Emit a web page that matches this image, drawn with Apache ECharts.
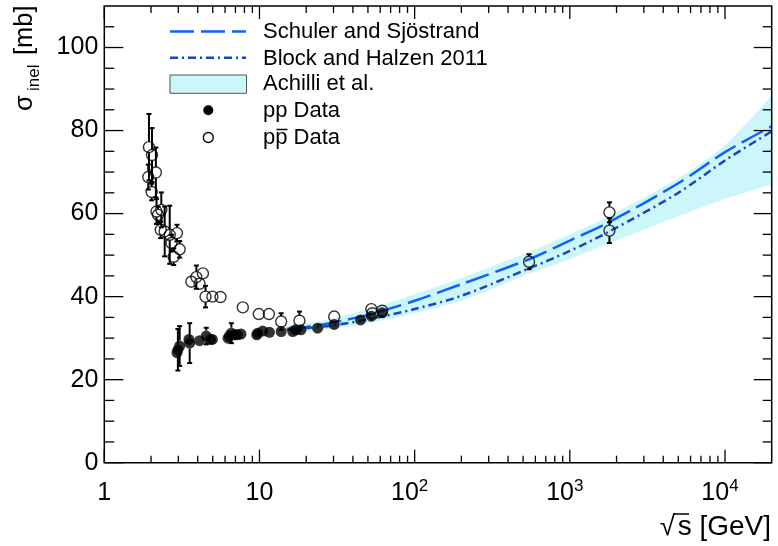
<!DOCTYPE html>
<html><head><meta charset="utf-8">
<script src="https://cdn.jsdelivr.net/npm/echarts@6/dist/echarts.min.js"></script>
<style>html,body{margin:0;padding:0;background:#fff}#c{width:778px;height:546px}</style>
</head><body><div id="c"></div>
<script>
// ---- model curves (sqrt(s) in GeV, sigma_inel in mb) ----
const curveX        = [15,   20,   30,   50,   100,  200,  546,  1000, 1800, 5000, 10000, 20000];
const schuler       = [32.2, 32.7, 33.8, 35.6, 39.0, 43.0, 49.0, 53.5, 58.0, 67.3, 74.8,  81.0];
const blockHalzen   = [32.0, 32.4, 33.1, 34.5, 37.0, 40.2, 46.8, 51.0, 55.7, 65.0, 72.8,  79.8];
const achilliUpper  = [33.0, 33.6, 34.8, 37.0, 40.6, 44.5, 50.8, 55.0, 59.5, 68.5, 76.5,  88.5];
const achilliLower  = [31.2, 31.6, 32.3, 33.6, 36.0, 39.0, 45.5, 49.0, 52.9, 59.3, 63.5,  67.0];

// ---- pp data ----
const ppX   = [2.94, 2.98, 3.06, 3.51, 3.55, 4.11, 4.54, 4.84, 4.97, 6.27, 6.4, 6.59, 6.9, 7.2, 7.6, 9.6, 9.75, 10.5, 11.6, 13.8, 16.4, 17.1, 18.5, 23.7, 30.3, 44.8, 52.6, 61.8];
const ppY   = [26.5, 27.2, 28.1, 29.7, 28.8, 29.4, 30.5, 29.7, 29.7, 30.0, 30.5, 31.2, 30.8, 30.8, 31.0, 30.8, 31.2, 31.7, 31.4, 31.6, 31.6, 32.0, 32.0, 32.4, 33.3, 34.4, 35.3, 36.1];
const ppErr = [1.0, 5.0, 4.8, 1.0, 4.8, 0.5, 2.0, 0.5, 0.5, 1.0, 0.5, 2.4, 1.0, 0.5, 0.5, 0.5, 0.5, 0.5, 0.5, 0.5, 0.5, 0.5, 0.5, 0.5, 0.5, 0.5, 0.5, 0.5];

// ---- p pbar data ----
const pbarX   = [1.94, 2.03, 1.92, 2.15, 2.02, 2.17, 2.22, 2.33, 2.31, 2.45, 2.64, 2.94, 2.71, 3.06, 2.80, 3.64, 3.92, 4.32, 4.11, 4.49, 4.97, 5.61, 7.81, 9.9, 11.5, 13.8, 18.1, 30.3, 52.6, 53.4, 61.8, 546, 1800, 1800];
const pbarY   = [76.0, 74.1, 68.8, 69.9, 65.2, 60.5, 59.7, 60.9, 56.1, 55.7, 54.9, 55.3, 52.9, 51.4, 49.6, 43.6, 44.7, 45.6, 43.1, 40.0, 40.0, 39.9, 37.4, 35.8, 35.8, 34.0, 34.2, 35.2, 37.0, 36.0, 36.6, 48.4, 60.3, 55.9];
const pbarErr = [8.0, 6.5, 3.0, 6.0, 2.0, 3.0, 2.0, 4.2, 2.0, 6.0, 7.0, 2.0, 2.0, 2.0, 2.0, 1.0, 2.8, 1.0, 1.0, 2.6, 0.5, 0.5, 0.5, 0.5, 0.5, 2.0, 2.2, 0.5, 0.5, 0.5, 0.5, 1.8, 2.4, 3.0];

// ---- axes ----
const xTickLabels = [1, 10, 100, 1000, 10000];
const yTickLabels = [0, 20, 40, 60, 80, 100];
const X_MIN = 1, X_MAX = 20000, Y_MIN = 0, Y_MAX = 110;

const FONT = '"Liberation Sans", Arial, Helvetica, sans-serif';
const C_SCHULER = '#0d62ff';
const C_BLOCK = '#1a47bd';
const C_BAND = '#cdf6fb';
const MARK_R = 5.5;

const zip = (xs, ys) => xs.map((x, i) => [x, ys[i]]);
const zip3 = (xs, ys, es) => xs.map((x, i) => [x, ys[i], es[i]]);

const xMinor = [];
for (let k = 0; k < 5; k++) for (let m = 2; m <= 9; m++) { const v = m * Math.pow(10, k); if (v < X_MAX) xMinor.push(v); }
const yMinor = [];
for (let v = 5; v < Y_MAX; v += 5) if (!yTickLabels.includes(v)) yMinor.push(v);

// error bars drawn outside the marker, ROOT style
function errRender(params, api) {
  const x = api.value(0), y = api.value(1), e = api.value(2);
  const c = api.coord([x, y]), t = api.coord([x, y + e]), b = api.coord([x, y - e]);
  const st = { stroke: '#000', lineWidth: 2 };
  const ch = [];
  if (c[1] - t[1] > MARK_R + 0.5) {
    ch.push({ type: 'line', shape: { x1: t[0], y1: t[1], x2: t[0], y2: c[1] - MARK_R }, style: st });
    ch.push({ type: 'line', shape: { x1: t[0] - 2.5, y1: t[1], x2: t[0] + 2.5, y2: t[1] }, style: st });
  }
  if (b[1] - c[1] > MARK_R + 0.5) {
    ch.push({ type: 'line', shape: { x1: b[0], y1: c[1] + MARK_R, x2: b[0], y2: b[1] }, style: st });
    ch.push({ type: 'line', shape: { x1: b[0] - 2.5, y1: b[1], x2: b[0] + 2.5, y2: b[1] }, style: st });
  }
  return { type: 'group', children: ch };
}

// hides the anti-aliased seam left where the band's white under-fill starts
function seamRender(params, api) {
  const a = api.coord([curveX[0], achilliLower[0]]), b = api.coord([curveX[0], Y_MIN]);
  return { type: 'line', shape: { x1: a[0], y1: a[1] + 1, x2: b[0], y2: b[1] }, style: { stroke: '#fff', lineWidth: 2 } };
}

function frameRender(params, api) {
  const bl = api.coord([X_MIN, Y_MIN]), tr = api.coord([X_MAX, Y_MAX]);
  const L = bl[0], B = bl[1], R = tr[0], T = tr[1];
  const ch = [{ type: 'rect', shape: { x: L, y: T, width: R - L, height: B - T }, style: { fill: 'none', stroke: '#000', lineWidth: 1.5 } }];
  const st = { stroke: '#000', lineWidth: 1.3 };
  const ln = (x1, y1, x2, y2) => ch.push({ type: 'line', shape: { x1, y1, x2, y2 }, style: st });
  xTickLabels.forEach(v => { const px = api.coord([v, Y_MIN])[0]; ln(px, B, px, B - 13); ln(px, T, px, T + 13); });
  xMinor.forEach(v => { const px = api.coord([v, Y_MIN])[0]; ln(px, B, px, B - 7); ln(px, T, px, T + 7); });
  yTickLabels.forEach(v => { const py = api.coord([X_MIN, v])[1]; ln(L, py, L + 19, py); ln(R, py, R - 18, py); });
  yMinor.forEach(v => { const py = api.coord([X_MIN, v])[1]; ln(L, py, L + 10, py); ln(R, py, R - 9, py); });
  return { type: 'group', children: ch };
}

function xFmt(v) {
  const lg = Math.log10(v), e = Math.round(lg);
  if (Math.abs(lg - e) > 1e-6 || !xTickLabels.includes(Math.pow(10, e))) return '';
  if (e === 0) return '{b|1}';
  if (e === 1) return '{b|10}';
  return '{b|10}{s|' + e + '}';
}

const txt = (text, x, y, size, extra) => Object.assign({
  type: 'text', x, y, z: 20,
  style: Object.assign({ text, font: size + 'px ' + FONT, fill: '#000', textAlign: 'left', align: 'left', textVerticalAlign: 'middle', verticalAlign: 'middle' }, extra || {})
});

const chart = echarts.init(document.getElementById('c'), null, { renderer: 'canvas' });
chart.setOption({
  animation: false,
  backgroundColor: '#fff',
  grid: { left: 104.3, right: 6.3, top: 6, bottom: 83.3, show: false },
  xAxis: {
    type: 'log', logBase: 10, min: X_MIN, max: X_MAX,
    axisLine: { show: false }, axisTick: { show: false }, splitLine: { show: false },
    axisLabel: {
      margin: 15, color: '#000', fontFamily: FONT, fontSize: 25, formatter: xFmt, showMaxLabel: false,
      rich: {
        b: { fontSize: 25, fontFamily: FONT, lineHeight: 30, color: '#000' },
        s: { fontSize: 17, fontFamily: FONT, lineHeight: 17, verticalAlign: 'top', color: '#000', padding: [0, 10, 0, 0] }
      }
    }
  },
  yAxis: {
    type: 'value', min: Y_MIN, max: Y_MAX, interval: 20,
    axisLine: { show: false }, axisTick: { show: false }, splitLine: { show: false },
    axisLabel: { margin: 6, color: '#000', fontFamily: FONT, fontSize: 25, formatter: v => yTickLabels.includes(v) ? String(v) : '' }
  },
  series: [
    // band: upper edge filled cyan to the axis, lower edge filled white on top of it
    { type: 'line', data: zip(curveX, achilliUpper), symbol: 'none', smooth: 0.3, lineStyle: { width: 0, opacity: 0 }, areaStyle: { color: C_BAND, opacity: 1, origin: 'start' }, silent: true, z: 1 },
    { type: 'line', data: zip(curveX, achilliLower), symbol: 'none', smooth: 0.3, lineStyle: { width: 0, opacity: 0 }, areaStyle: { color: '#fff', opacity: 1, origin: 'start' }, silent: true, z: 1.5 },
    { type: 'custom', data: [[curveX[0], achilliLower[0]]], renderItem: seamRender, silent: true, z: 1.6 },
    { type: 'line', data: zip(curveX, schuler), symbol: 'none', smooth: 0.3, lineStyle: { color: C_SCHULER, width: 2.5, type: [24, 7] }, silent: true, z: 2 },
    { type: 'line', data: zip(curveX, blockHalzen), symbol: 'none', smooth: 0.3, lineStyle: { color: C_BLOCK, width: 2.5, type: [8, 4, 2, 4] }, silent: true, z: 2 },
    { type: 'custom', data: zip3(pbarX, pbarY, pbarErr), renderItem: errRender, encode: { x: 0, y: 1 }, silent: true, z: 3 },
    { type: 'custom', data: zip3(ppX, ppY, ppErr), renderItem: errRender, encode: { x: 0, y: 1 }, silent: true, z: 3 },
    { type: 'scatter', data: zip(ppX, ppY), symbol: 'circle', symbolSize: 2 * MARK_R, itemStyle: { color: '#000' }, silent: true, z: 4 },
    { type: 'scatter', data: zip(pbarX, pbarY), symbol: 'circle', symbolSize: 2 * MARK_R, itemStyle: { color: 'rgba(0,0,0,0)', borderColor: '#000', borderWidth: 1.4 }, silent: true, z: 5 },
    { type: 'custom', data: [[X_MIN, Y_MIN]], renderItem: frameRender, silent: true, z: 10, clip: false }
  ],
  graphic: [
    // legend
    { type: 'line', z: 20, shape: { x1: 170, y1: 31.5, x2: 246, y2: 31.5 }, style: { stroke: C_SCHULER, lineWidth: 2.5, lineDash: [24, 7] } },
    { type: 'line', z: 20, shape: { x1: 170, y1: 57.7, x2: 246, y2: 57.7 }, style: { stroke: C_BLOCK, lineWidth: 2.5, lineDash: [8, 4, 2, 4] } },
    { type: 'rect', z: 20, shape: { x: 170, y: 75, width: 76.5, height: 18.3 }, style: { fill: C_BAND, stroke: '#555', lineWidth: 1 } },
    { type: 'circle', z: 20, shape: { cx: 208.3, cy: 110.3, r: 5 }, style: { fill: '#000' } },
    { type: 'circle', z: 20, shape: { cx: 208.3, cy: 137.5, r: 5 }, style: { fill: 'none', stroke: '#000', lineWidth: 1.3 } },
    txt('Schuler and Sjöstrand', 263, 32, 22),
    txt('Block and Halzen 2011', 263, 58.5, 22),
    txt('Achilli et al.', 263, 84, 22),
    txt('pp Data', 263, 110.5, 22),
    txt('pp Data', 263, 137.5, 22),
    { type: 'line', z: 20, shape: { x1: 276.5, y1: 129.5, x2: 287.5, y2: 129.5 }, style: { stroke: '#000', lineWidth: 1.5 } },
    // y title
    { type: 'group', x: 25, y: 111, rotation: Math.PI / 2, children: [
      txt('σ', 0, 0, 25.5),
      txt('inel', 20, 9, 17),
      txt('[mb]', 56, 0, 25.5)
    ]},
    // x title
    txt('√', 675, 527, 28, { textAlign: 'right', align: 'right' }),
    txt('s [GeV]', 771, 527, 28, { textAlign: 'right', align: 'right' }),
    { type: 'line', z: 20, shape: { x1: 673, y1: 514, x2: 689, y2: 514 }, style: { stroke: '#000', lineWidth: 1.5 } }
  ]
});
</script></body></html>
